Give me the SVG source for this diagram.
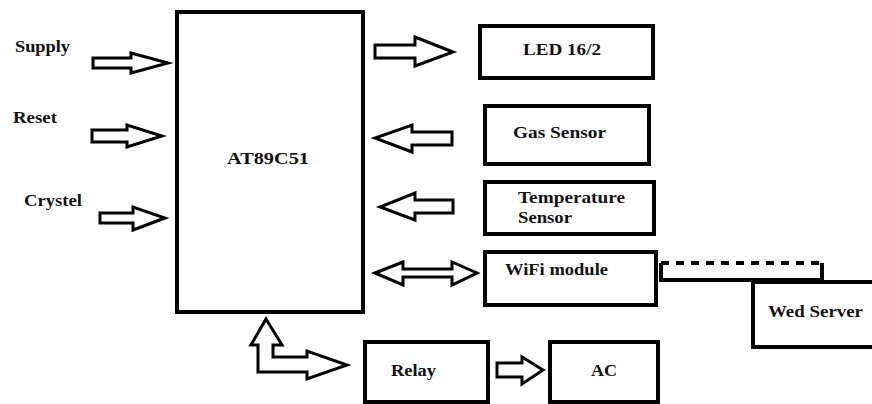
<svg xmlns="http://www.w3.org/2000/svg" width="872" height="404" viewBox="0 0 872 404">
<style>
.box{fill:#fff;stroke:#000;stroke-width:4}
.arr{fill:#fff;stroke:#000;stroke-width:3;stroke-linejoin:miter}
text{font-family:'Liberation Serif','Times New Roman',Times,serif;font-weight:700;font-size:17px;fill:#111}
</style>
<rect width="872" height="404" fill="#fff"/>
<g id="labels" font-family="Liberation Serif, serif">
<text x="15" y="52" textLength="55" lengthAdjust="spacingAndGlyphs">Supply</text>
<text x="13" y="123" textLength="44" lengthAdjust="spacingAndGlyphs">Reset</text>
<text x="24" y="206" textLength="58" lengthAdjust="spacingAndGlyphs">Crystel</text>
</g>
<g id="mcu"><rect class="box" x="177" y="12" width="186" height="300"/><text x="227" y="164" textLength="82" lengthAdjust="spacingAndGlyphs">AT89C51</text></g>
<g id="led"><rect class="box" x="480" y="26" width="173" height="52"/><text x="523" y="55" textLength="78" lengthAdjust="spacingAndGlyphs">LED 16/2</text></g>
<g id="gas"><rect class="box" x="485" y="106" width="164" height="58"/><text x="513" y="138" textLength="93" lengthAdjust="spacingAndGlyphs">Gas Sensor</text></g>
<g id="temp"><rect class="box" x="485" y="182" width="169" height="52"/><text x="518" y="203" textLength="107" lengthAdjust="spacingAndGlyphs">Temperature</text><text x="518" y="223" textLength="54" lengthAdjust="spacingAndGlyphs">Sensor</text></g>
<g id="wifi"><rect class="box" x="485" y="252" width="171" height="53"/><text x="505" y="275" textLength="103" lengthAdjust="spacingAndGlyphs">WiFi module</text></g>
<g id="server"><rect class="box" x="753" y="282" width="130" height="65"/><text x="768" y="317" textLength="95" lengthAdjust="spacingAndGlyphs">Wed Server</text></g>
<g id="relay"><rect class="box" x="365" y="342" width="123" height="60"/><text x="391" y="376" textLength="45" lengthAdjust="spacingAndGlyphs">Relay</text></g>
<g id="ac"><rect class="box" x="550" y="342" width="108" height="60"/><text x="591" y="376" textLength="26" lengthAdjust="spacingAndGlyphs">AC</text></g>
<g id="connectors">
<path class="arr" d="M93,58 H131 V53 L168,63 L131,73 V68 H93 Z"/>
<path class="arr" d="M92,130 H127 V125 L162,136 L127,147 V142 H92 Z"/>
<path class="arr" d="M100,213 H133 V207 L165,218 L133,230 V223 H100 Z"/>
<path class="arr" d="M375,45 H415 V37 L453,52 L415,66 V58 H375 Z"/>
<path class="arr" d="M452,132 H412 V125 L375,138 L412,152 V145 H452 Z"/>
<path class="arr" d="M453,200 H415 V193 L380,207 L415,220 V213 H453 Z"/>
<path class="arr" d="M375,273 L403,262 V269 H452 V262 L477,273 L452,285 V277 H403 V285 Z"/>
<path class="arr" d="M266,319 L282,345 H273 V357 H307 V351 L347,365 L307,379 V372 H258 V345 H251 Z"/>
<path class="arr" d="M497,363 H522 V357 L543,370 L522,384 V377 H497 Z"/>
<path d="M661,280 V263" stroke="#000" stroke-width="4" fill="none"/>
<path d="M661,263 H822" stroke="#000" stroke-width="4" stroke-dasharray="8,7" fill="none"/>
<path d="M822,263 V280" stroke="#000" stroke-width="4" fill="none"/>
<path d="M659,280 H824" stroke="#000" stroke-width="4" fill="none"/>
</g>
</svg>
